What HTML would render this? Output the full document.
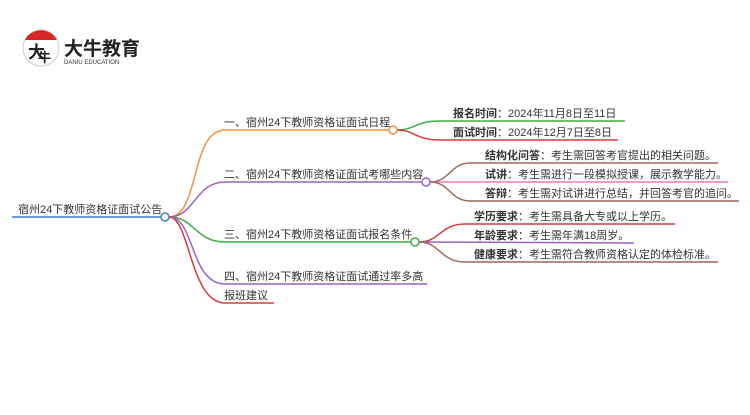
<!DOCTYPE html>
<html><head><meta charset="utf-8"><style>
body{margin:0;background:#fff;width:750px;height:410px;overflow:hidden;font-family:"Liberation Sans","Noto Sans CJK SC",sans-serif;}
svg text{font-family:"Liberation Sans","Noto Sans CJK SC",sans-serif;font-size:11px;fill:#333;}
</style></head><body>
<svg width="750" height="410" xmlns="http://www.w3.org/2000/svg">
<!-- logo -->
<circle cx="41" cy="48" r="18" fill="#fff" stroke="#ccc" stroke-width="1"/>
<path d="M25,40 A18,18 0 0 1 57,40 Z" fill="#d9252a"/>
<text x="28" y="58" style="font-size:17px;font-weight:bold;fill:#222">大</text>
<text x="38" y="62" style="font-size:13px;font-weight:bold;fill:#222">牛</text>
<text x="64" y="55" style="font-size:19px;font-weight:bold;fill:#222">大牛教育</text>
<text x="64" y="64" style="font-size:6px;fill:#333">DANIU EDUCATION</text>
<g fill="none" stroke-width="1.5">
<line x1="12" y1="217" x2="161" y2="217" stroke="#3a7fc1"/>
<path d="M169,217 C200,217 190,130 225,130 L389,130" stroke="#f7903a"/>
<path d="M169,217 C195,217 195,182 225,182 L422,182" stroke="#9a62c6"/>
<path d="M169,217 C195,217 195,242 225,242 L411,242" stroke="#3fae3f"/>
<path d="M169,217 C195,217 190,284 225,284 L427,284" stroke="#9a62c6"/>
<path d="M169,217 C190,217 190,303 225,303 L274,303" stroke="#d93a3a"/>
<path d="M397,130 C415,130 415,121 440,121 L625,121" stroke="#3fae3f"/>
<path d="M397,130 C415,130 415,140 440,140 L618,140" stroke="#d93a3a"/>
<path d="M430,182 C450,182 450,163 470,163 L718,163" stroke="#a0675a"/>
<path d="M430,182 L728,182" stroke="#e77ac0"/>
<path d="M430,182 C450,182 450,201 470,201 L739,201" stroke="#a0675a"/>
<path d="M419,242 C440,242 440,224 465,224 L675,224" stroke="#d93a3a"/>
<path d="M419,242 L634,243" stroke="#9a62c6"/>
<path d="M419,242 C440,242 440,262 465,262 L718,262" stroke="#a0675a"/>
</g>
<g fill="#fff" stroke-width="1.5">
<circle cx="165" cy="217" r="4" stroke="#3a7fc1"/>
<circle cx="393" cy="130" r="4" stroke="#f7903a"/>
<circle cx="426" cy="182" r="4" stroke="#9a62c6"/>
<circle cx="415" cy="242" r="4" stroke="#3fae3f"/>
</g>
<text x="18" y="213">宿州24下教师资格证面试公告</text>
<text x="224" y="126">一、宿州24下教师资格证面试日程</text>
<text x="224" y="178">二、宿州24下教师资格证面试考哪些内容</text>
<text x="224" y="238">三、宿州24下教师资格证面试报名条件</text>
<text x="224" y="280">四、宿州24下教师资格证面试通过率多高</text>
<text x="224" y="299">报班建议</text>
<text x="453" y="117"><tspan font-weight="bold">报名时间</tspan>：2024年11月8日至11日</text>
<text x="453" y="136"><tspan font-weight="bold">面试时间</tspan>：2024年12月7日至8日</text>
<text x="485" y="159"><tspan font-weight="bold">结构化问答</tspan>：考生需回答考官提出的相关问题。</text>
<text x="485" y="178"><tspan font-weight="bold">试讲</tspan>：考生需进行一段模拟授课，展示教学能力。</text>
<text x="485" y="197"><tspan font-weight="bold">答辩</tspan>：考生需对试讲进行总结，并回答考官的追问。</text>
<text x="474" y="220"><tspan font-weight="bold">学历要求</tspan>：考生需具备大专或以上学历。</text>
<text x="474" y="239"><tspan font-weight="bold">年龄要求</tspan>：考生需年满18周岁。</text>
<text x="474" y="258"><tspan font-weight="bold">健康要求</tspan>：考生需符合教师资格认定的体检标准。</text>
</svg>
</body></html>
